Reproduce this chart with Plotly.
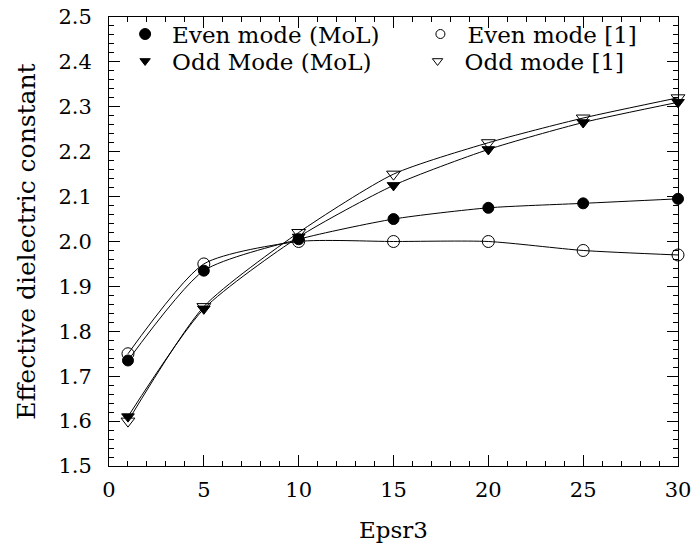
import plotly.graph_objects as go

epsr3 = [1, 5, 10, 15, 20, 25, 30]
even_mol = [1.735, 1.935, 2.005, 2.050, 2.075, 2.085, 2.095]
even_ref = [1.750, 1.950, 2.000, 2.000, 2.000, 1.980, 1.970]
odd_mol = [1.610, 1.850, 2.010, 2.125, 2.205, 2.265, 2.310]
odd_ref = [1.600, 1.855, 2.020, 2.150, 2.220, 2.275, 2.320]

names = ["Even mode (MoL)", "Even mode [1]", "Odd Mode (MoL)", "Odd mode [1]"]
series = [even_mol, even_ref, odd_mol, odd_ref]
symbols = ["circle", "circle-open", "triangle-down", "triangle-down-open"]
sizes = [11, 12, 11, 12]
legend_sizes = [11, 9, 9, 9]
legend_ids = ["legend", "legend2", "legend3", "legend4"]

FONT = "DejaVu Serif"
fig = go.Figure()
for name, ys, sym, sz in zip(names, series, symbols, sizes):
    fig.add_trace(go.Scatter(
        x=epsr3, y=ys, mode="lines+markers", showlegend=False,
        line=dict(color="black", width=1, shape="spline", smoothing=0.65),
        marker=dict(symbol=sym, size=sz, color="black", line=dict(color="black", width=1)),
        cliponaxis=False,
    ))
for name, sym, sz, lg in zip(names, symbols, legend_sizes, legend_ids):
    fig.add_trace(go.Scatter(
        x=[None], y=[None], mode="markers", name=name, legend=lg,
        marker=dict(symbol=sym, size=sz, color="black", line=dict(color="black", width=1)),
    ))

axis_common = dict(
    showline=True, linecolor="black", linewidth=1, mirror="allticks",
    ticks="inside", ticklen=11, tickcolor="black", tickwidth=1,
    showgrid=False, zeroline=False, automargin=False,
    tickfont=dict(family=FONT, size=21, color="black"),
)
fig.update_xaxes(
    range=[0, 30], dtick=5, tick0=0, ticklabelstandoff=5,
    minor=dict(ticks="inside", ticklen=5, dtick=1, tickcolor="black", showgrid=False),
    title=dict(text="Epsr3", font=dict(family=FONT, size=23, color="black"), standoff=20),
    **axis_common,
)
fig.update_yaxes(
    range=[1.5, 2.5], dtick=0.1, tick0=1.5, tickformat=".1f", ticklabelstandoff=12,
    minor=dict(ticks="inside", ticklen=5, dtick=0.02, tickcolor="black", showgrid=False),
    title=dict(text="Effective dielectric constant", font=dict(family=FONT, size=25, color="black"), standoff=15),
    **axis_common,
)

def leg(x, y):
    return dict(
        x=x, y=y, xanchor="left", yanchor="middle", itemwidth=44,
        font=dict(family=FONT, size=23, color="black"),
        bgcolor="rgba(0,0,0,0)", borderwidth=0,
    )

fig.update_layout(
    width=692, height=553,
    margin=dict(l=109, r=14, t=17, b=87),
    paper_bgcolor="white", plot_bgcolor="white",
    font=dict(family=FONT, color="black"),
    legend=leg(0.016, 0.962),
    legend2=leg(0.535, 0.962),
    legend3=leg(0.016, 0.902),
    legend4=leg(0.530, 0.902),
)
fig.write_html("out.html")
